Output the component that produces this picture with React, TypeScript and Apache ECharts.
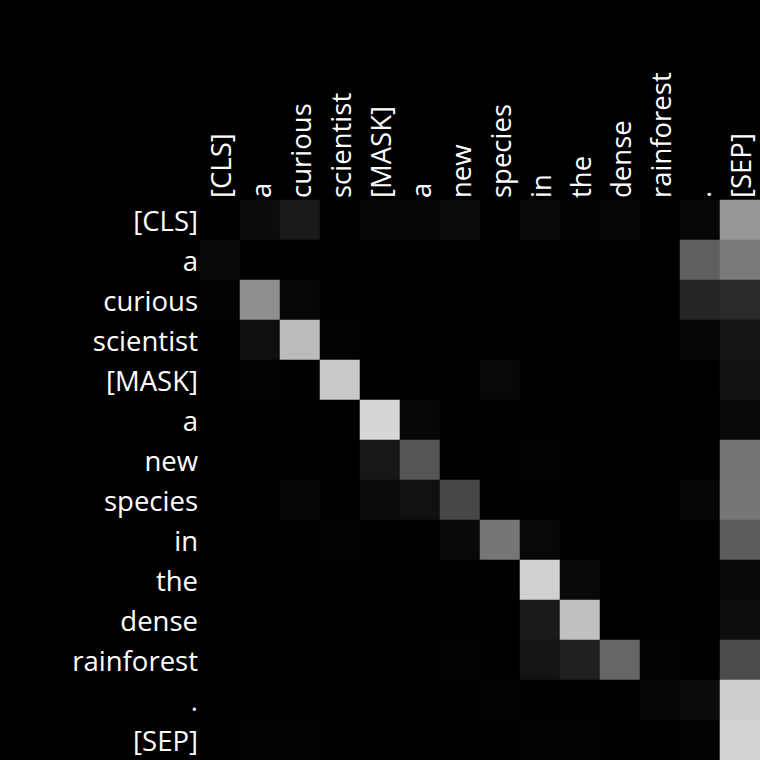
import React, { useEffect, useRef } from "react";
import * as echarts from "echarts";

const tokens = ["[CLS]", "a", "curious", "scientist", "[MASK]", "a", "new", "species", "in", "the", "dense", "rainforest", ".", "[SEP]"];

const row0 = [0.004, 0.047, 0.098, 0.004, 0.016, 0.016, 0.043, 0, 0.039, 0.012, 0.016, 0, 0.024, 0.592];
const row1 = [0.039, 0, 0, 0, 0, 0, 0, 0, 0, 0, 0, 0, 0.376, 0.478];
const row2 = [0.012, 0.561, 0.024, 0, 0, 0, 0, 0, 0, 0, 0, 0, 0.145, 0.165];
const row3 = [0.004, 0.059, 0.737, 0.008, 0, 0, 0.004, 0, 0, 0, 0, 0, 0.02, 0.075];
const row4 = [0.004, 0.012, 0.004, 0.784, 0.004, 0, 0, 0.031, 0, 0, 0, 0, 0, 0.071];
const row5 = [0.004, 0.004, 0, 0, 0.839, 0.024, 0, 0, 0, 0, 0, 0, 0, 0.031];
const row6 = [0.004, 0.004, 0, 0, 0.09, 0.333, 0.004, 0, 0.008, 0, 0, 0, 0, 0.455];
const row7 = [0.004, 0.004, 0.02, 0.004, 0.043, 0.067, 0.275, 0.004, 0.004, 0, 0, 0, 0.02, 0.463];
const row8 = [0, 0, 0, 0.012, 0, 0, 0.035, 0.463, 0.031, 0, 0, 0, 0, 0.361];
const row9 = [0, 0, 0, 0, 0, 0, 0, 0, 0.816, 0.035, 0, 0, 0, 0.035];
const row10 = [0, 0, 0, 0, 0, 0, 0, 0, 0.102, 0.753, 0, 0, 0, 0.055];
const row11 = [0, 0, 0, 0, 0, 0, 0.008, 0, 0.075, 0.125, 0.4, 0.008, 0, 0.294];
const row12 = [0.004, 0, 0, 0, 0, 0, 0, 0.008, 0.004, 0, 0, 0.02, 0.043, 0.8];
const row13 = [0, 0.008, 0.008, 0, 0, 0, 0, 0, 0.008, 0.008, 0, 0.004, 0.012, 0.827];

const attentionRows = [row0, row1, row2, row3, row4, row5, row6, row7, row8, row9, row10, row11, row12, row13];

export default function App() {
  const ref = useRef<HTMLDivElement>(null);
  useEffect(() => {
    if (!ref.current) return;
    const chart = echarts.init(ref.current, null, { renderer: "svg" });
    const data: [number, number, number][] = [];
    attentionRows.forEach((row, r) => row.forEach((v, c) => data.push([c, r, v])));
    const labelStyle = { color: "#ffffff", fontSize: 27.5, fontFamily: "Open Sans", margin: 2 };
    chart.setOption({
      animation: false,
      backgroundColor: "#000000",
      grid: { left: 200, top: 200, right: 0, bottom: 0, containLabel: false },
      xAxis: {
        type: "category",
        position: "top",
        data: tokens,
        axisLine: { show: false },
        axisTick: { show: false },
        splitLine: { show: false },
        axisLabel: { ...labelStyle, rotate: -90, interval: 0 },
      },
      yAxis: {
        type: "category",
        inverse: true,
        data: tokens,
        axisLine: { show: false },
        axisTick: { show: false },
        splitLine: { show: false },
        axisLabel: { ...labelStyle, interval: 0 },
      },
      visualMap: {
        show: false,
        min: 0,
        max: 1,
        inRange: { color: ["#000000", "#ffffff"] },
      },
      series: [
        {
          type: "heatmap",
          data,
          itemStyle: { borderWidth: 0 },
          emphasis: { disabled: true },
        },
      ],
    });
    return () => chart.dispose();
  }, []);
  return (
    <div
      ref={ref}
      style={{ position: "absolute", left: 0, top: 0, width: 760, height: 760, background: "#000" }}
    />
  );
}
